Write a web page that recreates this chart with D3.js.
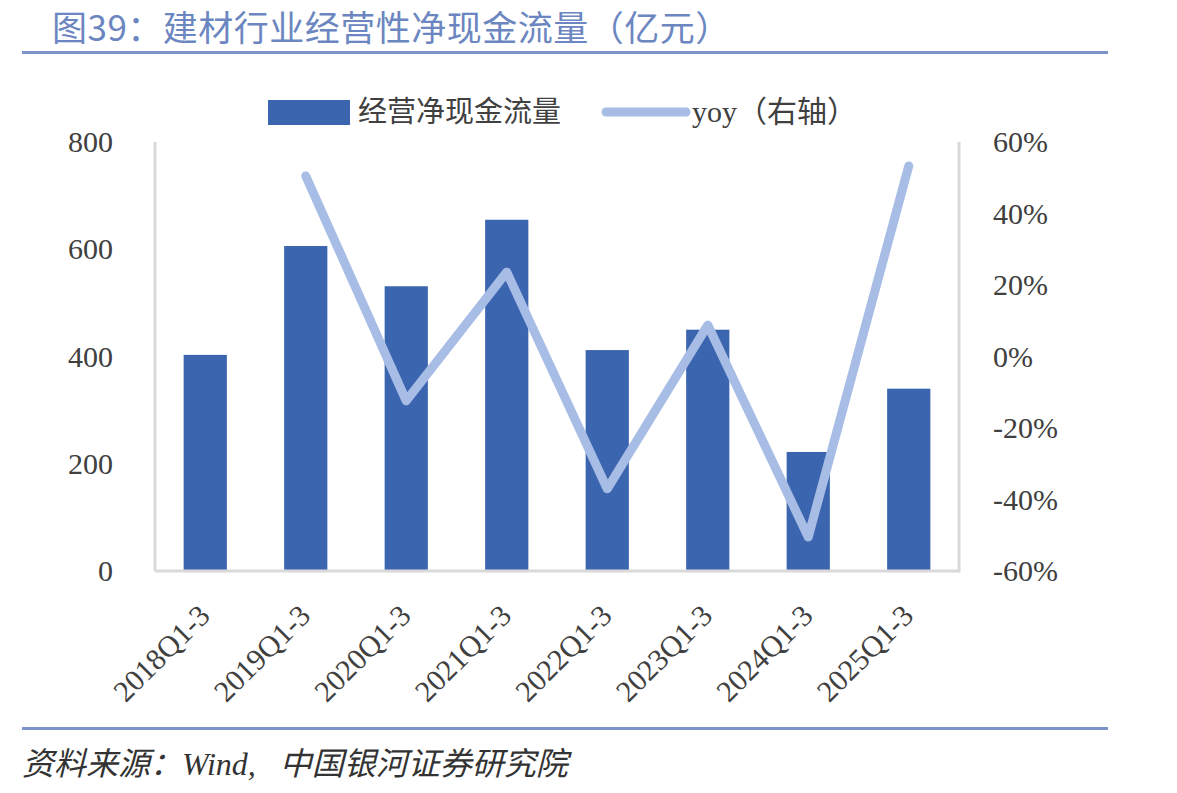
<!DOCTYPE html>
<html lang="zh">
<head>
  <meta charset="UTF-8">
  <title>建材行业经营性净现金流量</title>
  <style>
    body { margin: 0; background: #fff; }
    svg text { font-family: "Liberation Serif", "Noto Sans CJK SC", serif; }
  </style>
</head>
<body>
  <svg id="chart" width="1177" height="793"></svg>
  <script src="https://d3js.org/d3.v7.min.js"></script>
  <script>
    // data
    const categories = ["2018Q1-3", "2019Q1-3", "2020Q1-3", "2021Q1-3", "2022Q1-3", "2023Q1-3", "2024Q1-3", "2025Q1-3"];
    const cashFlow = [403, 606, 531, 655, 412, 450, 222, 340];
    const yoy = [null, 50.5, -12.4, 23.6, -37.0, 8.8, -50.5, 53.3];
    const leftTicks = [0, 200, 400, 600, 800];
    const rightTicks = [-60, -40, -20, 0, 20, 40, 60];

    const barColor = "#3C65AF";
    const lineColor = "#A7BDE5";
    const textColor = "#404040";
    const ruleColor = "#7B93C9";

    const svg = d3.select("#chart");
    const plot = { left: 155, right: 959, top: 142, bottom: 571 };

    // title + rules
    svg.append("text")
      .attr("x", 52).attr("y", 41)
      .attr("fill", "#6B86C0")
      .style("font-family", "'Noto Sans CJK SC', sans-serif")
      .style("font-size", "35px")
      .style("letter-spacing", "0.5px")
      .text("图39：建材行业经营性净现金流量（亿元）");

    svg.append("rect").attr("x", 22).attr("y", 51).attr("width", 1086).attr("height", 3).attr("fill", ruleColor);
    svg.append("rect").attr("x", 22).attr("y", 727).attr("width", 1086).attr("height", 3).attr("fill", ruleColor);

    svg.append("text")
      .attr("x", 22).attr("y", 775)
      .attr("fill", "#333")
      .style("font-size", "32px")
      .style("font-style", "italic")
      .style("white-space", "pre")
      .text("资料来源：Wind,   中国银河证券研究院");

    // scales
    const x = d3.scaleBand()
      .domain(categories)
      .range([plot.left, plot.right])
      .paddingInner(0.57)
      .paddingOuter(0.285);

    const xCenter = d3.scalePoint()
      .domain(categories)
      .range([plot.left, plot.right])
      .padding(0.5);

    const yLeft = d3.scaleLinear().domain([0, 800]).range([plot.bottom, plot.top]);
    const yRight = d3.scaleLinear().domain([-60, 60]).range([plot.bottom, plot.top]);

    // bars
    svg.append("g").selectAll("rect")
      .data(categories)
      .enter().append("rect")
      .attr("x", d => x(d))
      .attr("y", (d, i) => yLeft(cashFlow[i]))
      .attr("width", x.bandwidth())
      .attr("height", (d, i) => plot.bottom - yLeft(cashFlow[i]))
      .attr("fill", barColor);

    // axes lines (left, right, bottom)
    const axisStroke = "#D9D9D9";
    svg.append("line").attr("x1", plot.left).attr("x2", plot.left).attr("y1", plot.top).attr("y2", plot.bottom)
      .attr("stroke", axisStroke).attr("stroke-width", 3);
    svg.append("line").attr("x1", plot.right).attr("x2", plot.right).attr("y1", plot.top).attr("y2", plot.bottom)
      .attr("stroke", axisStroke).attr("stroke-width", 3);
    svg.append("line").attr("x1", plot.left).attr("x2", plot.right + 1.5).attr("y1", plot.bottom).attr("y2", plot.bottom)
      .attr("stroke", axisStroke).attr("stroke-width", 3);

    // left axis
    const leftAxis = svg.append("g")
      .attr("transform", `translate(${plot.left},0)`)
      .call(d3.axisLeft(yLeft).tickValues(leftTicks).tickSize(0).tickPadding(42));
    leftAxis.select(".domain").remove();
    leftAxis.selectAll("text")
      .attr("fill", textColor)
      .style("font-family", "'Liberation Serif', serif")
      .style("font-size", "30px");

    // right axis
    const rightAxis = svg.append("g")
      .attr("transform", `translate(${plot.right},0)`)
      .call(d3.axisRight(yRight).tickValues(rightTicks).tickSize(0).tickPadding(34)
        .tickFormat(d => d + "%"));
    rightAxis.select(".domain").remove();
    rightAxis.selectAll("text")
      .attr("fill", textColor)
      .style("font-family", "'Liberation Serif', serif")
      .style("font-size", "30px");

    // category labels, rotated
    svg.append("g").selectAll("text")
      .data(categories)
      .enter().append("text")
      .attr("transform", d => `translate(${xCenter(d) - 1},${plot.bottom + 39}) rotate(-45)`)
      .attr("text-anchor", "end")
      .attr("dy", "0.35em")
      .attr("fill", textColor)
      .style("font-size", "30px")
      .text(d => d);

    // yoy line
    const line = d3.line()
      .defined(d => d.v !== null)
      .x(d => xCenter(d.c))
      .y(d => yRight(d.v));

    svg.append("path")
      .datum(categories.map((c, i) => ({ c: c, v: yoy[i] })))
      .attr("d", line)
      .attr("fill", "none")
      .attr("stroke", lineColor)
      .attr("stroke-width", 9)
      .attr("stroke-linecap", "round")
      .attr("stroke-linejoin", "round");

    // legend
    const legend = svg.append("g");
    legend.append("rect").attr("x", 268).attr("y", 100).attr("width", 82).attr("height", 25).attr("fill", barColor);
    legend.append("text").attr("x", 358).attr("y", 122)
      .attr("fill", textColor)
      .style("font-family", "'Noto Sans CJK SC', sans-serif")
      .style("font-size", "29px")
      .text("经营净现金流量");
    legend.append("line").attr("x1", 606).attr("x2", 686).attr("y1", 112).attr("y2", 112)
      .attr("stroke", lineColor).attr("stroke-width", 9).attr("stroke-linecap", "round");
    legend.append("text").attr("x", 692).attr("y", 122)
      .attr("fill", textColor)
      .style("font-size", "30px")
      .text("yoy（右轴）");
  </script>
</body>
</html>
